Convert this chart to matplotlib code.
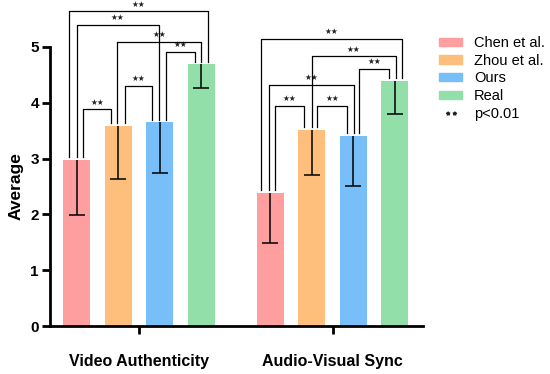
import numpy as np
from matplotlib import pyplot as plt
from matplotlib.patches import Patch
from matplotlib.lines import Line2D

plt.rcParams['font.family'] = ['Liberation Sans', 'DejaVu Sans']

groups = ['Video Authenticity', 'Audio-Visual Sync']
methods = ['Chen et al.', 'Zhou et al.', 'Ours', 'Real']
colors = ['#FF9E9F', '#FDBF7B', '#78BEF9', '#93DFA9']

means = np.array([[2.97, 3.58, 3.65, 4.69],
                  [2.39, 3.52, 3.40, 4.39]])
lower = np.array([[1.99, 2.63, 2.75, 4.26],
                  [1.48, 2.70, 2.51, 3.80]])

# significance brackets: (bar i, bar j, bracket height)
sig1 = [(0, 1, 3.88), (1, 2, 4.31), (2, 3, 4.91), (1, 3, 5.09), (0, 2, 5.40), (0, 3, 5.64)]
sig2 = [(0, 1, 3.95), (1, 2, 3.95), (0, 2, 4.32), (2, 3, 4.61), (1, 3, 4.83), (0, 3, 5.15)]
# small sideways shift of each bracket leg so they don't overlap (in bar-spacing units)
legs1 = [(0.15, -0.17), (0.15, -0.19), (0.15, -0.16), (-0.02, 0.0), (0.0, -0.02), (-0.19, 0.16)]
legs2 = [(0.12, -0.19), (0.12, -0.14), (-0.02, 0.02), (0.14, -0.14), (0.0, 0.02), (-0.23, 0.17)]

centers = np.array([0.0, 4.66])
offs = np.array([-1.5, -0.5, 0.5, 1.5])

fig = plt.figure(figsize=(5.5, 3.74), dpi=100)
ax = fig.add_axes([50/550, 1-326/374, 373/550, 279/374])

for k in range(4):
    x = centers + offs[k]
    ax.bar(x, means[:, k], width=0.65, color=colors[k], zorder=1)
    # one-sided (lower) error bars
    ax.vlines(x, lower[:, k], means[:, k], color='black', lw=1.1, zorder=3)
    ax.plot(x, lower[:, k], ls='none', marker='_', ms=11, mew=1.1, color='black', zorder=3)

for g, (sig, legs) in enumerate([(sig1, legs1), (sig2, legs2)]):
    for (i, j, h), (di, dj) in zip(sig, legs):
        xi = centers[g] + offs[i] + di
        xj = centers[g] + offs[j] + dj
        yi = means[g, i] + 0.05
        yj = means[g, j] + 0.05
        ax.plot([xi, xi, xj, xj], [yi, h, h, yj], color='black', lw=0.9,
                clip_on=False, zorder=4)
        ax.text((xi+xj)/2, h+0.05, '★★', ha='center', va='bottom', fontsize=5.5,
                family='DejaVu Sans', color='#222222', clip_on=False)

ax.set_xlim(-2.145, 6.84)
ax.set_ylim(0, 5)
ax.set_yticks([0, 1, 2, 3, 4, 5])
ax.set_xticks(centers)
ax.set_xticklabels(groups, fontsize=11.5, fontweight='bold')
for t in ax.get_yticklabels():
    t.set_fontweight('bold')
    t.set_fontsize(11)
ax.set_ylabel('Average', fontsize=12.5, fontweight='bold', labelpad=5)
ax.tick_params(axis='y', length=6, width=2, pad=2)
ax.tick_params(axis='x', length=6, width=2, pad=14)
for s in ['top', 'right']:
    ax.spines[s].set_visible(False)
for s in ['left', 'bottom']:
    ax.spines[s].set_linewidth(2)

handles = [Patch(color=c) for c in colors]
handles.append(Line2D([], [], ls='none', marker=r'$\star\star$', color='#222222', markersize=7))
fig.legend(handles, methods + ['p<0.01'], loc='upper left',
           bbox_to_anchor=(439/550, 1-36/374), frameon=False, fontsize=10.5,
           borderpad=0, borderaxespad=0, handlelength=1.6, handleheight=0.5,
           labelspacing=0.25, handletextpad=0.8)

fig.savefig('out.png', dpi=100)
